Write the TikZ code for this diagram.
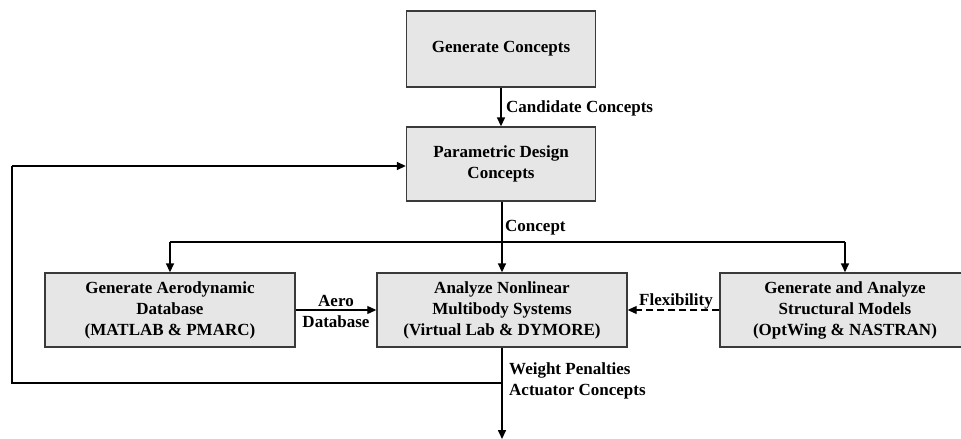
\documentclass[tikz,border=0pt]{standalone}
\usepackage{fontspec}
\setmainfont{Liberation Serif}
\usetikzlibrary{arrows.meta}
\definecolor{boxfill}{HTML}{E6E6E6}
\definecolor{boxline}{HTML}{3A3A3A}
\begin{document}
\begin{tikzpicture}[x=1pt,y=-1pt,
  every node/.style={font=\fontsize{17}{21}\selectfont\bfseries},
  box/.style={draw=boxline,line width=1.4pt,fill=boxfill,align=center,inner sep=0pt},
  flow/.style={line width=1.6pt,-{Triangle[length=9pt,width=8pt]}},
  thinflow/.style={line width=1.1pt,-{Triangle[length=9pt,width=8pt]}},
  lbl/.style={inner sep=0pt}]
\useasboundingbox (0,0) rectangle (961,439);
% boxes
\node[box,minimum width=189pt,minimum height=76pt] (gen) at (501,49) {Generate Concepts};
\node[box,minimum width=189pt,minimum height=74pt] (par) at (501,164) {Parametric Design\\Concepts};
\node[box,minimum width=250pt,minimum height=74pt] (aero) at (170,310) {Generate Aerodynamic\\Database\\(MATLAB \& PMARC)};
\node[box,minimum width=250pt,minimum height=74pt] (ana) at (502,310) {Analyze Nonlinear\\Multibody Systems\\(Virtual Lab \& DYMORE)};
\node[box,minimum width=250pt,minimum height=74pt] (str) at (845,310) {Generate and Analyze\\Structural Models\\(OptWing \& NASTRAN)};
% coordinates
\coordinate (fbL) at (12,166);
\coordinate (fbB) at (12,383);
\coordinate (fbJ) at (502,383);
\coordinate (bus) at (502,242);
\coordinate (busL) at (170,242);
\coordinate (busR) at (845,242);
\coordinate (outE) at (502,439);
% connectors
\draw[flow] (gen.south -| 501,0) -- (par.north -| 501,0);
\draw[flow] (par.south -| bus) -- (ana.north -| bus);
\draw[line width=1.6pt] (busL) -- (busR);
\draw[flow] (busL) -- (aero.north -| busL);
\draw[flow] (busR) -- (str.north -| busR);
\draw[thinflow] (aero.east) -- (ana.west);
\draw[line width=1.1pt,dash pattern=on 7pt off 4pt,-{Triangle[length=9pt,width=8pt]}] (str.west) -- (ana.east);
\draw[flow] (ana.south) -- (outE);
\draw[line width=1.6pt] (fbJ) -- (fbB) -- (fbL);
\draw[flow] (fbL) -- (fbL -| par.west);
% labels
\node[lbl,anchor=west] (lcand) at (506,108) {Candidate Concepts};
\node[lbl,anchor=west] (lconc) at (505,228) {Concept};
\node[lbl] (laero) at (336,301) {Aero};
\node[lbl] (ldb) at (336,322) {Database};
\node[lbl] (lflex) at (676,301) {Flexibility};
\node[lbl,anchor=west] (lwp) at (509,370) {Weight Penalties};
\node[lbl,anchor=west] (lac) at (509,392) {Actuator Concepts};
\end{tikzpicture}
\end{document}
